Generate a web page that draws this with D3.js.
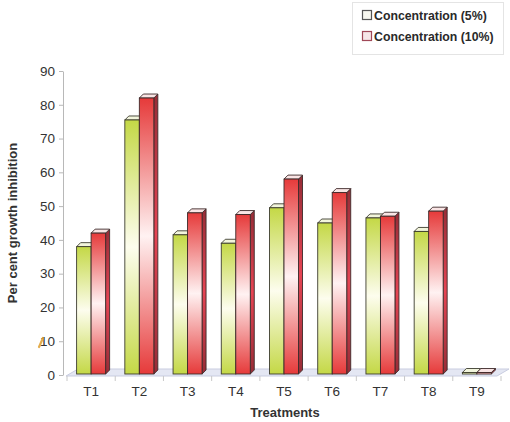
<!DOCTYPE html>
<html>
<head>
<meta charset="utf-8">
<script src="https://cdn.jsdelivr.net/npm/d3@7/dist/d3.min.js"></script>
<style>
  html, body { margin: 0; padding: 0; background: #fff; }
  svg { display: block; font-family: Arial, "Liberation Sans", sans-serif; }
</style>
</head>
<body>
<svg id="chart" width="510" height="422"></svg>
<script>
// Growth inhibition per treatment at two concentrations
const categories = ["T1", "T2", "T3", "T4", "T5", "T6", "T7", "T8", "T9"];
const seriesNames = ["Concentration (5%)", "Concentration (10%)"];
const conc5 = [38, 75.5, 41.5, 39, 49.5, 45, 46.5, 42.5, 0];
const conc10 = [42, 82, 48, 47.5, 58, 54, 47, 48.5, 0];
const yTicks = [0, 10, 20, 30, 40, 50, 60, 70, 80, 90];

const seriesValues = [conc5, conc10];
const palette = [
  { edge: "#c4d846", mid: "#fdfdee", side: "#8c9a30", top: "#f2f5dc", stroke: "#3d3d30" },
  { edge: "#e63a3a", mid: "#fff2f2", side: "#962c36", top: "#f9e4e4", stroke: "#3d2a2a" }
];

const svg = d3.select("#chart");
const defs = svg.append("defs");

palette.forEach((p, i) => {
  const g = defs.append("linearGradient")
    .attr("id", "front" + i).attr("x1", 0).attr("y1", 0).attr("x2", 0).attr("y2", 1);
  g.append("stop").attr("offset", "0%").attr("stop-color", p.edge);
  g.append("stop").attr("offset", "50%").attr("stop-color", p.mid);
  g.append("stop").attr("offset", "100%").attr("stop-color", p.edge);
  const s = defs.append("linearGradient")
    .attr("id", "side" + i).attr("x1", 0).attr("y1", 0).attr("x2", 0).attr("y2", 1);
  s.append("stop").attr("offset", "0%").attr("stop-color", p.side);
  s.append("stop").attr("offset", "50%").attr("stop-color", d3.color(p.side).brighter(1.2));
  s.append("stop").attr("offset", "100%").attr("stop-color", p.side);
});

const y = d3.scaleLinear().domain([0, 90]).range([375, 71]);
const x0 = d3.scaleBand().domain(categories).range([67, 501]);
const pairWidth = 29;
const x1 = d3.scaleBand().domain(seriesNames).range([0, pairWidth]);
const depth = { dx: 4, dy: -4 };
const floorDepth = { dx: 12, dy: -7 };

// Floor of the plot
const [fx0, fx1] = x0.range();
const fy = y(0) + 1;
svg.append("polygon")
  .attr("points", [
    [fx0 - 1, fy], [fx1 - 4, fy],
    [fx1 - 4 + floorDepth.dx, fy + floorDepth.dy], [fx0 - 1 + floorDepth.dx, fy + floorDepth.dy]
  ].map(p => p.join(",")).join(" "))
  .attr("fill", "#e4e7f3")
  .attr("stroke", "#c9cde0")
  .attr("stroke-width", 1);

// Y axis
const yAxis = d3.axisLeft(y).tickValues(yTicks).tickSize(4).tickSizeOuter(0).tickPadding(4);
const yg = svg.append("g").attr("transform", "translate(63,0)").call(yAxis);
yg.select(".domain").attr("stroke", "#b8b8b8");
yg.selectAll(".tick line").attr("stroke", "#b8b8b8");
yg.selectAll(".tick text").attr("font-size", 13.5).attr("fill", "#333");

// Category axis
const xAxis = d3.axisBottom(x0).tickSize(0).tickPadding(10);
const xg = svg.append("g").attr("transform", `translate(0,${fy})`).call(xAxis);
xg.select(".domain").remove();
xg.selectAll(".tick text").attr("font-size", 13.5).attr("fill", "#333");

// Category separators under the floor
svg.append("g").selectAll("line")
  .data(categories.concat(["end"]))
  .join("line")
  .attr("x1", (d, i) => fx0 + i * x0.step())
  .attr("x2", (d, i) => fx0 + i * x0.step())
  .attr("y1", fy)
  .attr("y2", fy + 5)
  .attr("stroke", "#c8c8c8");

// 3D bars
const barW = x1.bandwidth();
const base = y(0) - 1;
const bars = svg.append("g");
categories.forEach((cat, ci) => {
  seriesNames.forEach((name, si) => {
    const v = seriesValues[si][ci];
    const p = palette[si];
    const left = x0(cat) + (x0.bandwidth() - pairWidth) / 2 + x1(name);
    const top = Math.min(y(v), base - 1.5);
    const g = bars.append("g");
    // side face
    g.append("polygon")
      .attr("points", [
        [left + barW, top], [left + barW + depth.dx, top + depth.dy],
        [left + barW + depth.dx, base + depth.dy], [left + barW, base]
      ].map(q => q.join(",")).join(" "))
      .attr("fill", `url(#side${si})`)
      .attr("stroke", p.stroke).attr("stroke-width", 0.9).attr("stroke-linejoin", "round");
    // top face
    g.append("polygon")
      .attr("points", [
        [left, top], [left + depth.dx, top + depth.dy],
        [left + barW + depth.dx, top + depth.dy], [left + barW, top]
      ].map(q => q.join(",")).join(" "))
      .attr("fill", p.top)
      .attr("stroke", p.stroke).attr("stroke-width", 0.9).attr("stroke-linejoin", "round");
    // front face
    g.append("rect")
      .attr("x", left).attr("y", top)
      .attr("width", barW).attr("height", base - top)
      .attr("fill", `url(#front${si})`)
      .attr("stroke", p.stroke).attr("stroke-width", 0.9);
  });
});

// Axis titles
svg.append("text")
  .attr("transform", "translate(17,223) rotate(-90)")
  .attr("text-anchor", "middle")
  .attr("font-size", 13).attr("font-weight", "bold").attr("fill", "#333")
  .text("Per cent growth inhibition");

svg.append("text")
  .attr("x", 285).attr("y", 417)
  .attr("text-anchor", "middle")
  .attr("font-size", 13).attr("font-weight", "bold").attr("fill", "#333")
  .text("Treatments");

// Small orange pen mark beside the 10 label
svg.append("path")
  .attr("d", "M39,347 L43,338")
  .attr("stroke", "#e0a030").attr("stroke-width", 2.2).attr("stroke-linecap", "round")
  .attr("opacity", 0.85);

// Legend
const legend = svg.append("g");
legend.append("rect")
  .attr("x", 352.5).attr("y", 2.5).attr("width", 151).attr("height", 52)
  .attr("fill", "#fff").attr("stroke", "#e4e4e4");
const legendSwatch = [
  { stroke: "#555", fill: "#f6f6ee" },
  { stroke: "#a04858", fill: "#f6e6e8" }
];
seriesNames.forEach((name, i) => {
  const row = legend.append("g").attr("transform", `translate(362,${10 + i * 21})`);
  row.append("rect")
    .attr("x", 0.5).attr("y", 0.5).attr("width", 9).attr("height", 9)
    .attr("fill", legendSwatch[i].fill).attr("stroke", legendSwatch[i].stroke).attr("stroke-width", 1.2);
  row.append("text")
    .attr("x", 12).attr("y", 9.5)
    .attr("font-size", 12.3).attr("font-weight", "bold").attr("fill", "#2a2a2a")
    .text(name);
});
</script>
</body>
</html>
